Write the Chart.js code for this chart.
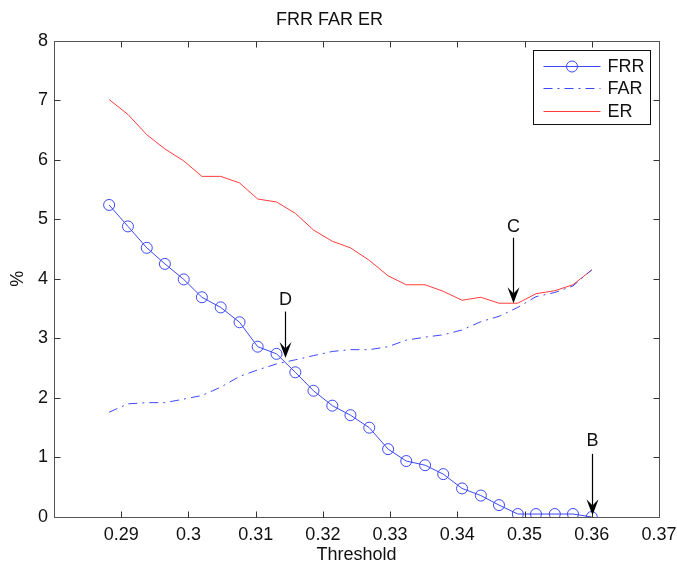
<!DOCTYPE html>
<html><head><meta charset="utf-8">
<script src="https://cdn.jsdelivr.net/npm/chart.js@4"></script>
<style>html,body{margin:0;padding:0;background:#fff}canvas{display:block}</style>
</head><body>
<canvas id="c" width="677" height="566"></canvas>
<script>
const thresholds = [0.2882, 0.2910, 0.2938, 0.2965, 0.2993, 0.3020, 0.3048, 0.3076, 0.3103, 0.3131,
  0.3159, 0.3186, 0.3214, 0.3241, 0.3269, 0.3297, 0.3324, 0.3352, 0.3379, 0.3407,
  0.3435, 0.3462, 0.3490, 0.3517, 0.3545, 0.3572, 0.3600];
const frr = [5.24, 4.88, 4.52, 4.25, 3.99, 3.69, 3.52, 3.27, 2.86, 2.74,
  2.43, 2.12, 1.87, 1.71, 1.50, 1.14, 0.94, 0.87, 0.72, 0.48,
  0.36, 0.20, 0.05, 0.05, 0.05, 0.05, 0.00];
const far = [1.76, 1.90, 1.92, 1.92, 1.98, 2.04, 2.18, 2.36, 2.47, 2.57,
  2.64, 2.71, 2.78, 2.81, 2.81, 2.86, 2.97, 3.02, 3.06, 3.14,
  3.28, 3.37, 3.52, 3.70, 3.77, 3.88, 4.15];
const er = [7.01, 6.76, 6.42, 6.18, 5.98, 5.72, 5.72, 5.61, 5.34, 5.29,
  5.10, 4.82, 4.63, 4.52, 4.31, 4.05, 3.90, 3.90, 3.79, 3.64,
  3.69, 3.59, 3.59, 3.75, 3.80, 3.90, 4.15];
const seriesNames = ['FRR', 'FAR', 'ER'];
const xTickValues = [0.29, 0.30, 0.31, 0.32, 0.33, 0.34, 0.35, 0.36, 0.37];
const xTickLabels = ['0.29', '0.3', '0.31', '0.32', '0.33', '0.34', '0.35', '0.36', '0.37'];
const yTickValues = [0, 1, 2, 3, 4, 5, 6, 7, 8];
const yTickLabels = ['0', '1', '2', '3', '4', '5', '6', '7', '8'];
const chartTitle = 'FRR FAR ER';
const xTitle = 'Threshold';
const yTitle = '%';
const arrowLabels = ['D', 'C', 'B'];
const arrowX = [0.3144, 0.3483, 0.3600];
const arrowTextY = [3.65, 4.87, 1.27];
const arrowFromY = [3.45, 4.69, 1.06];
const arrowToY = [2.67, 3.59, 0.03];

const FONT = "'Liberation Sans', Arial, Helvetica, sans-serif";
const BLUE = 'rgb(60,72,245)';
const RED = 'rgb(255,60,60)';
const TXT = '#111';
const FAR_DASH = [9, 5, 2, 5];

function pts(ys) { return thresholds.map((x, i) => ({x: x, y: ys[i]})); }
function labelFor(values, labels) {
  return v => { const i = values.findIndex(t => Math.abs(t - v) < 1e-9); return i >= 0 ? labels[i] : ''; };
}

const framePlugin = {
  id: 'frame',
  afterDraw(chart) {
    const ctx = chart.ctx, a = chart.chartArea;
    const xs = chart.scales.x, ys = chart.scales.y;
    const L = Math.round(a.left) + 0.5, R = Math.round(a.right) + 0.5;
    const T = Math.round(a.top) + 0.5, B = Math.round(a.bottom) + 0.5;
    ctx.save();
    ctx.strokeStyle = '#555';
    ctx.lineWidth = 1;
    ctx.setLineDash([]);
    ctx.strokeRect(L, T, R - L, B - T);
    const tl = 6;
    ctx.strokeStyle = '#333';
    ctx.beginPath();
    xTickValues.forEach(v => {
      const px = Math.round(xs.getPixelForValue(v)) + 0.5;
      if (px <= L + 1 || px >= R - 1) return;
      ctx.moveTo(px, B); ctx.lineTo(px, B - tl);
      ctx.moveTo(px, T); ctx.lineTo(px, T + tl);
    });
    yTickValues.forEach(v => {
      const py = Math.round(ys.getPixelForValue(v)) + 0.5;
      if (py <= T + 1 || py >= B - 1) return;
      ctx.moveTo(L, py); ctx.lineTo(L + tl, py);
      ctx.moveTo(R, py); ctx.lineTo(R - tl, py);
    });
    ctx.stroke();

    // legend
    const lw = 117, lh = 74;
    const lx = Math.round(a.right) - 9 - lw + 0.5, ly = Math.round(a.top) + 9 + 0.5;
    ctx.fillStyle = '#fff';
    ctx.fillRect(lx, ly, lw, lh);
    ctx.strokeStyle = '#111';
    ctx.strokeRect(lx, ly, lw, lh);
    const rowY = [ly + 15.5, ly + 37.5, ly + 60];
    const x0 = lx + 10, x1 = lx + 67, tx = lx + 74;
    chart.data.datasets.forEach((ds, i) => {
      const y = Math.round(rowY[i]) + 0.5;
      ctx.strokeStyle = ds.borderColor;
      ctx.lineWidth = 1;
      ctx.setLineDash(ds.borderDash || []);
      ctx.beginPath(); ctx.moveTo(x0, y); ctx.lineTo(x1, y); ctx.stroke();
      ctx.setLineDash([]);
      if (ds.pointRadius > 0) {
        ctx.beginPath(); ctx.arc((x0 + x1) / 2, y, ds.pointRadius, 0, Math.PI * 2); ctx.stroke();
      }
      ctx.fillStyle = TXT;
      ctx.font = '18px ' + FONT;
      ctx.textAlign = 'left';
      ctx.textBaseline = 'middle';
      ctx.fillText(seriesNames[i], tx, y + 1);
    });

    // arrows
    arrowLabels.forEach((lab, i) => {
      const x = Math.round(xs.getPixelForValue(arrowX[i])) + 0.5;
      const yt = ys.getPixelForValue(arrowTextY[i]);
      const y0 = ys.getPixelForValue(arrowFromY[i]);
      const y1 = ys.getPixelForValue(arrowToY[i]);
      const hl = 16, hw = 12;
      ctx.strokeStyle = '#000';
      ctx.fillStyle = '#000';
      ctx.lineWidth = 1.2;
      ctx.beginPath(); ctx.moveTo(x, y0); ctx.lineTo(x, y1 - hl * 0.6); ctx.stroke();
      ctx.beginPath();
      ctx.moveTo(x, y1);
      ctx.lineTo(x - hw / 2, y1 - hl);
      ctx.lineTo(x, y1 - hl * 0.6);
      ctx.lineTo(x + hw / 2, y1 - hl);
      ctx.closePath();
      ctx.fill();
      ctx.font = '18px ' + FONT;
      ctx.textAlign = 'center';
      ctx.textBaseline = 'middle';
      ctx.fillStyle = TXT;
      ctx.fillText(lab, x, yt);
    });
    ctx.restore();
  }
};

new Chart(document.getElementById('c'), {
  type: 'line',
  data: {
    datasets: [
      {label: seriesNames[0], data: pts(frr), borderColor: BLUE, borderWidth: 1, tension: 0,
       pointRadius: 5.5, pointStyle: 'circle', pointBorderColor: BLUE, pointBackgroundColor: 'rgba(0,0,0,0)',
       pointBorderWidth: 1, pointHoverRadius: 5.5},
      {label: seriesNames[1], data: pts(far), borderColor: BLUE, borderWidth: 1, tension: 0,
       borderDash: FAR_DASH, pointRadius: 0},
      {label: seriesNames[2], data: pts(er), borderColor: RED, borderWidth: 1, tension: 0, pointRadius: 0}
    ]
  },
  options: {
    responsive: false, animation: false, devicePixelRatio: 1,
    events: [],
    layout: {padding: {left: 0, right: 18, top: 0, bottom: 0}},
    plugins: {
      legend: {display: false}, tooltip: {enabled: false},
      title: {display: true, text: chartTitle, color: TXT, font: {family: FONT, size: 18, weight: 'normal'},
              padding: {top: 9, bottom: 10}}
    },
    scales: {
      x: {
        type: 'linear', min: 0.28, max: 0.37,
        grid: {display: false, drawTicks: false}, border: {display: false},
        afterBuildTicks: s => { s.ticks = xTickValues.map(v => ({value: v})); },
        ticks: {autoSkip: false, maxRotation: 0, padding: 7, color: TXT, font: {family: FONT, size: 18},
                callback: labelFor(xTickValues, xTickLabels)},
        title: {display: true, text: xTitle, color: TXT, font: {family: FONT, size: 18}, padding: {top: 0, bottom: 0}},
        afterFit: s => { s.height = 49; s.paddingLeft = 0; s.paddingRight = 0; }
      },
      y: {
        type: 'linear', min: 0, max: 8,
        grid: {display: false, drawTicks: false}, border: {display: false},
        afterBuildTicks: s => { s.ticks = yTickValues.map(v => ({value: v})); },
        ticks: {autoSkip: false, padding: 6, color: TXT, font: {family: FONT, size: 18},
                callback: labelFor(yTickValues, yTickLabels)},
        title: {display: true, text: yTitle, color: TXT, font: {family: FONT, size: 18}, padding: {top: 7, bottom: 0}},
        afterFit: s => { s.width = 54; s.paddingTop = 0; s.paddingBottom = 0; }
      }
    }
  },
  plugins: [framePlugin]
});
</script>
</body></html>
